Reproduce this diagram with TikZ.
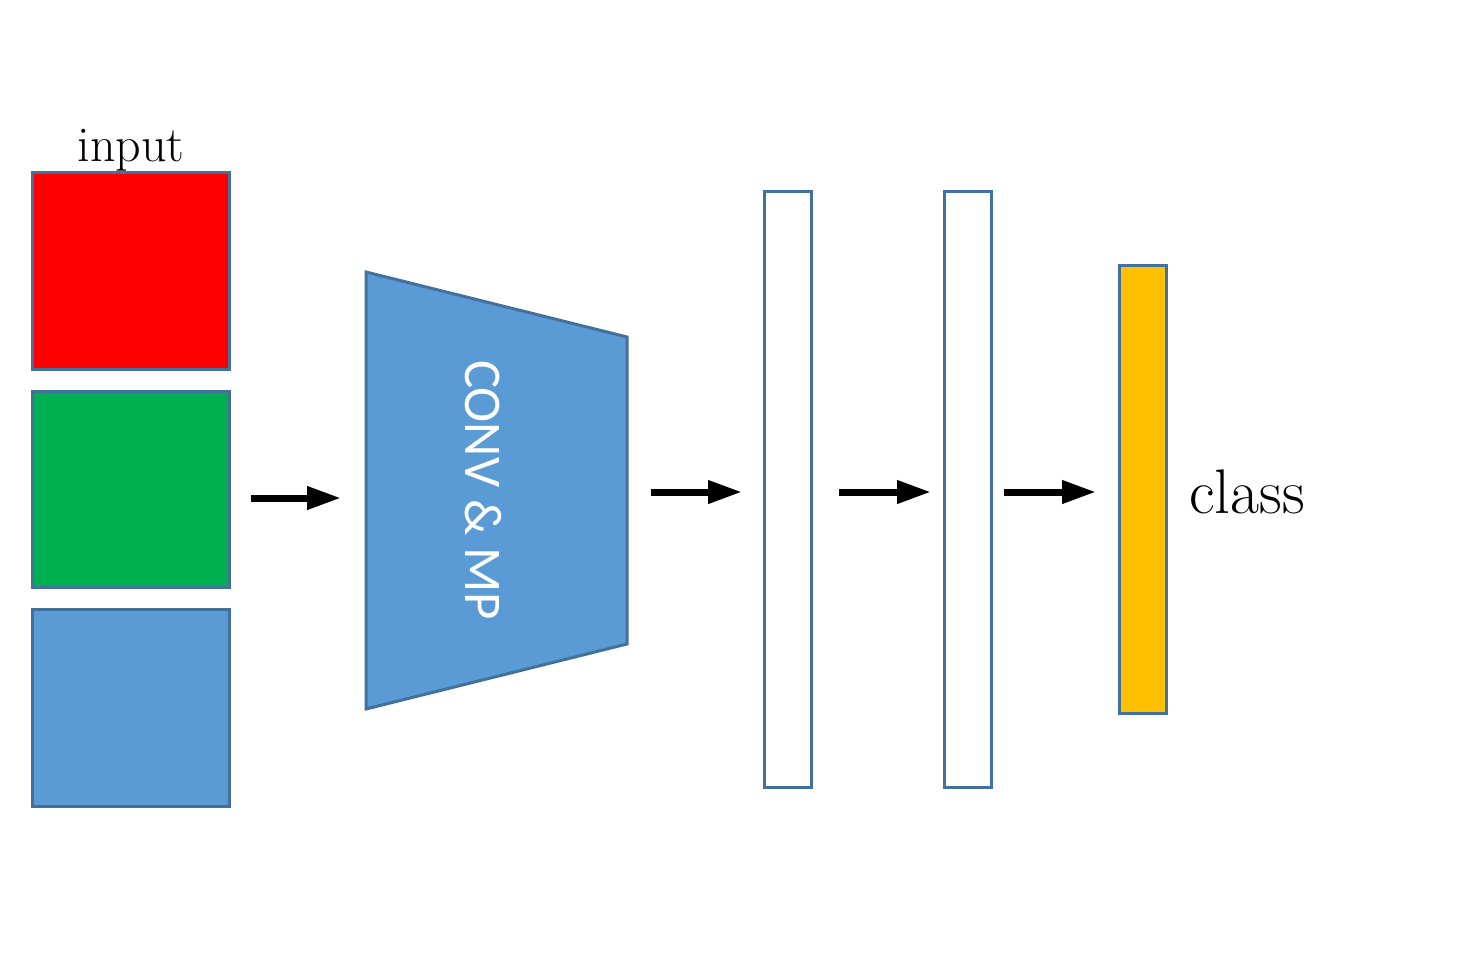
\documentclass[tikz,border=0pt]{standalone}
\usepackage{fontspec}
\newfontfamily\carlito{Carlito}
\usetikzlibrary{arrows.meta}
\definecolor{edge}{HTML}{41719C}
\definecolor{bluefill}{HTML}{5B9BD5}
\definecolor{greenfill}{HTML}{00B050}
\definecolor{redfill}{HTML}{FF0000}
\definecolor{yellowfill}{HTML}{FFC000}
\tikzset{
  box/.style={draw=edge, line width=3pt, inner sep=0pt, outer sep=0pt},
  flow/.style={line width=7pt, -{Triangle[length=34pt,width=22pt]}, shorten >=0pt},
}
\begin{document}
\begin{tikzpicture}[x=1pt,y=-1pt]
\useasboundingbox (0,0) rectangle (1466,956);
% input channels
\node[box, fill=redfill, minimum width=197pt, minimum height=197pt] (r) at (130.5,270.5) {};
\node[box, fill=greenfill, minimum width=197pt, minimum height=196pt] (g) at (130.5,489) {};
\node[box, fill=bluefill, minimum width=197pt, minimum height=197pt] (b) at (130.5,707.5) {};
\node[anchor=base, inner sep=0pt] (inlab) at (131,161) {\fontsize{50}{54}\selectfont input};
% trapezoid
\draw[box, fill=bluefill] (366,272) coordinate (t1) -- (627,337) coordinate (t2) -- (627,644) coordinate (t3) -- (366,709) coordinate (t4) -- cycle;
\node[rotate=-90, text=white, inner sep=0pt] (conv) at (483,490) {\carlito\fontsize{53}{60}\selectfont CONV \& MP};
% dense layers
\node[box, fill=white, minimum width=47pt, minimum height=596pt] (d1) at (788,489) {};
\node[box, fill=white, minimum width=47pt, minimum height=596pt] (d2) at (967.5,489) {};
\node[box, fill=yellowfill, minimum width=47pt, minimum height=448pt] (out) at (1142.5,489) {};
\node[anchor=west, inner sep=0pt] (cls) at (1189,492) {\fontsize{63}{66}\selectfont class};
% arrows
\coordinate (a1s) at (251,498); \coordinate (a1e) at (341,498);
\coordinate (a2s) at (651,492); \coordinate (a2e) at (742,492);
\coordinate (a3s) at (839,492); \coordinate (a3e) at (931,492);
\coordinate (a4s) at (1004,492); \coordinate (a4e) at (1096,492);
\draw[flow] (a1s) -- (a1e);
\draw[flow] (a2s) -- (a2e);
\draw[flow] (a3s) -- (a3e);
\draw[flow] (a4s) -- (a4e);
\end{tikzpicture}
\end{document}
